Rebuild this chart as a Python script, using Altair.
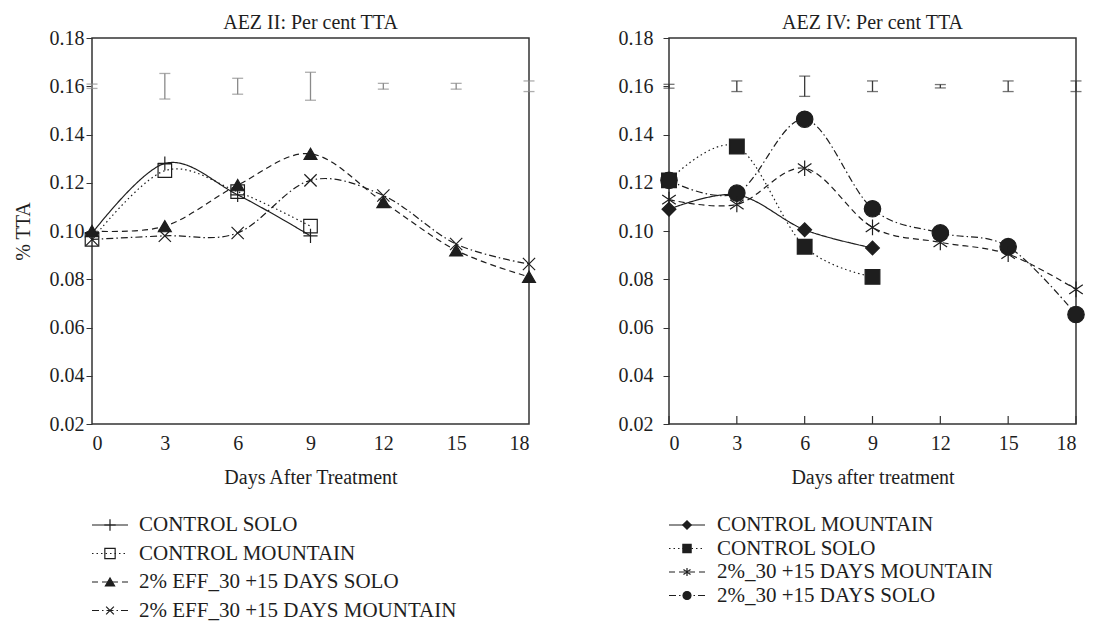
import altair as alt
import pandas as pd

FONT = "Liberation Serif"
INK = "#1e1e1e"

days = [0, 3, 6, 9, 12, 15, 18]
y_ticks = [0.02, 0.04, 0.06, 0.08, 0.10, 0.12, 0.14, 0.16, 0.18]

# ---------------- AEZ II ----------------
aez2_names = ["CONTROL SOLO", "CONTROL MOUNTAIN",
              "2% EFF_30 +15 DAYS SOLO", "2% EFF_30 +15 DAYS MOUNTAIN"]
aez2_control_solo = [0.099, 0.128, 0.115, 0.098]
aez2_control_mountain = [0.0965, 0.125, 0.1163, 0.102]
aez2_eff_solo = [0.100, 0.102, 0.119, 0.132, 0.112, 0.092, 0.081]
aez2_eff_mountain = [0.0965, 0.098, 0.0992, 0.121, 0.1147, 0.0946, 0.0863]
aez2_err_mid = [0.160, 0.160, 0.160, 0.160, 0.160, 0.160, 0.160]
aez2_err_half = [0.0009, 0.0053, 0.0033, 0.0058, 0.0012, 0.0012, 0.0022]
aez2_draw_order = [0, 1, 3, 2]

# ---------------- AEZ IV ----------------
aez4_names = ["CONTROL MOUNTAIN", "CONTROL SOLO",
              "2%_30 +15 DAYS MOUNTAIN", "2%_30 +15 DAYS SOLO"]
aez4_control_mountain = [0.109, 0.115, 0.1005, 0.093]
aez4_control_solo = [0.121, 0.135, 0.0935, 0.081]
aez4_mountain = [0.113, 0.111, 0.126, 0.1015, 0.0953, 0.0904, 0.0758]
aez4_solo = [0.121, 0.1157, 0.1463, 0.1092, 0.0992, 0.0935, 0.0654]
aez4_err_mid = [0.160, 0.160, 0.160, 0.160, 0.160, 0.160, 0.160]
aez4_err_half = [0.0008, 0.0022, 0.0042, 0.0022, 0.0007, 0.0022, 0.0022]
aez4_draw_order = [0, 3, 2, 1]

PLUS = "M-1,0L1,0M0,-1L0,1"
XMARK = "M-1,-1L1,1M-1,1L1,-1"
ASTER = "M0,-1L0,1M-0.87,-0.6L0.87,0.6M-0.87,0.6L0.87,-0.6"

DASH_SOLID = [1, 0]
DASH_DOT = [1.5, 3]
DASH_DASH = [6, 4]
DASH_DASHDOT = [7, 3, 1.5, 3]


def series_df(names, values_list, draw_order):
    rows = []
    for n, vals, z in zip(names, values_list, draw_order):
        for d, v in zip(days, vals):
            rows.append({"series": n, "day": d, "tta": v, "z": z})
    return pd.DataFrame(rows)


def panel(names, values, draw_order, err_mid, err_half, dashes, shapes, fills, sizes,
          leg_sizes, err_color, width, height, title, ytitle, xtitle,
          inward, y_label_pad, row_gap, leg_height, leg_text_x):
    df = series_df(names, values, draw_order)
    edf = pd.DataFrame({
        "day": days,
        "lo": [m - h for m, h in zip(err_mid, err_half)],
        "hi": [m + h for m, h in zip(err_mid, err_half)],
    })
    xs = alt.Scale(domain=[0, 18], nice=False, zero=False)
    ys = alt.Scale(domain=[0.02, 0.18], nice=False, zero=False)
    x_axis = alt.Axis(values=days, title=xtitle, ticks=False, labelPadding=9,
                      titlePadding=14, format="d", domain=False)
    yaxis_kw = dict(values=y_ticks, format=".2f", tickSize=6,
                    labelPadding=y_label_pad, domain=False)
    if ytitle:
        y_axis = alt.Axis(title=ytitle, titlePadding=16, **yaxis_kw)
    else:
        y_axis = alt.Axis(title=None, **yaxis_kw)

    dash_enc = alt.StrokeDash("series:N", scale=alt.Scale(domain=names, range=dashes), legend=None)
    shape_enc = alt.Shape("series:N", scale=alt.Scale(domain=names, range=shapes), legend=None)
    fill_enc = alt.Fill("series:N", scale=alt.Scale(domain=names, range=fills), legend=None)

    lines = alt.Chart(df).mark_line(interpolate="cardinal", color=INK, strokeWidth=1.2).encode(
        x=alt.X("day:Q", scale=xs, axis=x_axis),
        y=alt.Y("tta:Q", scale=ys, axis=y_axis),
        strokeDash=dash_enc,
        detail="series:N",
    )
    pts = alt.Chart(df).mark_point(stroke=INK, strokeWidth=1.2, opacity=1).encode(
        x=alt.X("day:Q", scale=xs),
        y=alt.Y("tta:Q", scale=ys),
        shape=shape_enc,
        fill=fill_enc,
        size=alt.Size("series:N", scale=alt.Scale(domain=names, range=sizes), legend=None),
        order=alt.Order("z:Q"),
    )
    err_rule = alt.Chart(edf).mark_rule(color=err_color, strokeWidth=1.3).encode(
        x=alt.X("day:Q", scale=xs), y=alt.Y("lo:Q", scale=ys), y2="hi:Q")
    cap_lo = alt.Chart(edf).mark_tick(color=err_color, orient="horizontal", size=11, thickness=1.3).encode(
        x=alt.X("day:Q", scale=xs), y=alt.Y("lo:Q", scale=ys))
    cap_hi = alt.Chart(edf).mark_tick(color=err_color, orient="horizontal", size=11, thickness=1.3).encode(
        x=alt.X("day:Q", scale=xs), y=alt.Y("hi:Q", scale=ys))
    layers = [err_rule, cap_lo, cap_hi, lines, pts]
    if inward:
        tdf = pd.DataFrame({"day": days})
        tick_marks = alt.Chart(tdf).mark_rule(color="#333", strokeWidth=1.2).encode(
            x=alt.X("day:Q", scale=xs), y=alt.value(height), y2=alt.value(height - 8))
        layers.append(tick_marks)
    plot = alt.layer(*layers).properties(
        width=width, height=height,
        title=alt.TitleParams(title, font=FONT, fontSize=20, fontWeight="normal",
                              color=INK, anchor="middle", offset=-5),
    )

    ldf = pd.DataFrame({"series": names, "row": list(range(len(names)))})
    top = 14.0
    dmin = -top / row_gap
    dmax = (leg_height - top) / row_gap
    ly = alt.Y("row:Q", axis=None, scale=alt.Scale(domain=[dmin, dmax], reverse=True, nice=False, zero=False))
    l_rule = alt.Chart(ldf).mark_rule(color=INK, strokeWidth=1.2).encode(
        x=alt.value(0), x2=alt.value(36), y=ly,
        strokeDash=alt.StrokeDash("series:N", scale=alt.Scale(domain=names, range=dashes), legend=None))
    l_pts = alt.Chart(ldf).mark_point(stroke=INK, strokeWidth=1.2, opacity=1).encode(
        x=alt.value(18), y=ly,
        shape=alt.Shape("series:N", scale=alt.Scale(domain=names, range=shapes), legend=None),
        fill=alt.Fill("series:N", scale=alt.Scale(domain=names, range=fills), legend=None),
        size=alt.Size("series:N", scale=alt.Scale(domain=names, range=leg_sizes), legend=None))
    l_txt = alt.Chart(ldf).mark_text(align="left", baseline="middle", font=FONT, fontSize=21, color=INK).encode(
        x=alt.value(leg_text_x), y=ly, text="series:N")
    legend = alt.layer(l_rule, l_pts, l_txt).properties(
        width=width, height=leg_height,
        view=alt.ViewBackground(stroke="transparent"))
    return alt.vconcat(plot, legend, spacing=22).resolve_scale(size="independent")


left = panel(
    aez2_names,
    [aez2_control_solo, aez2_control_mountain, aez2_eff_solo, aez2_eff_mountain],
    aez2_draw_order,
    aez2_err_mid, aez2_err_half,
    [DASH_SOLID, DASH_DOT, DASH_DASH, DASH_DASHDOT],
    [PLUS, "square", "triangle-up", XMARK],
    ["transparent", "transparent", INK, "transparent"],
    [200, 150, 170, 150],
    [130, 60, 60, 80],
    "#8a8a8a", 437, 386, "AEZ II: Per cent TTA", "% TTA", "Days After Treatment",
    False, 2, 28.5, 106, 47,
)
right = panel(
    aez4_names,
    [aez4_control_mountain, aez4_control_solo, aez4_mountain, aez4_solo],
    aez4_draw_order,
    aez4_err_mid, aez4_err_half,
    [DASH_SOLID, DASH_DOT, DASH_DASH, DASH_DASHDOT],
    ["diamond", "square", ASTER, "circle"],
    [INK, INK, "transparent", INK],
    [190, 270, 290, 290],
    [70, 64, 90, 90],
    "#3a3a3a", 407, 386, "AEZ IV: Per cent TTA", None, "Days after treatment",
    True, 10, 23.5, 94, 48,
)

chart = alt.hconcat(left, right, spacing=78).resolve_scale(
    shape="independent", fill="independent", strokeDash="independent", size="independent"
).properties(
    padding={"left": 12, "top": 12, "right": 0, "bottom": 0}
).configure_view(
    stroke="#333", strokeWidth=1.5
).configure_axis(
    labelFont=FONT, titleFont=FONT, labelFontSize=20, titleFontSize=20,
    labelColor=INK, titleColor=INK, titleFontWeight="normal",
    tickColor="#333", grid=False,
)

chart.save("out.html", embed_options={"renderer": "svg", "actions": False})
